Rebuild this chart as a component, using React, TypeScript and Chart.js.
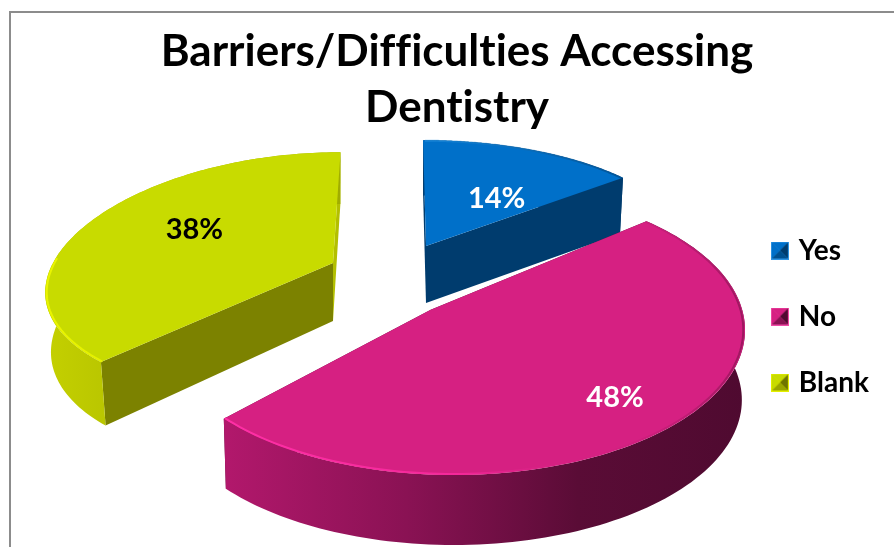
import { useEffect, useRef } from "react";
import { Chart, registerables } from "chart.js";

Chart.register(...registerables);

const categories = ["Yes", "No", "Blank"];
const shares = [14, 48, 38];
const titleLines = ["Barriers/Difficulties Accessing", "Dentistry"];

const topColors = ["#0070c9", "#d62082", "#c8db00"];
const startWallColors = ["#003c6e", "#5a0c36", "#7c8200"];
const endWallColors = ["#003c6e", "#5a0c36", "#b3bf00"];
const labelColors = ["#ffffff", "#ffffff", "#000000"];
const labelRadii = [0.52, 0.79, 0.6];
const labelTurns = [7, -2.8, 6];
const FONT = "Lato, Carlito, Calibri, sans-serif";

// Each exploded wedge has its own view of the tilted pie plane: an ellipse
// for the rim, and the point of that ellipse's disc where the pie's centre falls.
const sliceViews: any[] = [
  { x0: 426, y0: 246, rx: 263, skew: -3, ry: 109, persp: 0.03, perspX: 0.03, depth: 57, inset: 0.985 },
  { ellipse: { x: 454, y: 330, a: 291, b: 145, cu: -0.08, cv: 0.14 }, depth: 70, inset: 0.99 },
  { x0: 333, y0: 263, rx: 280, skew: 9, ry: 124, persp: 0.12, perspX: 0.2, depth: 58, inset: 0.98 },
];
const wallStops = [
  [[0, "#003c6e"], [1, "#003c6e"]],
  [[0, "#b2186c"], [0.35, "#8a1254"], [0.68, "#5a0c36"], [1, "#4f0a30"]],
  [[0, "#c4d000"], [0.5, "#abb800"], [1, "#a0ac00"]],
];
const rimStops = [
  [[0, "rgba(40,150,230,0.5)"], [1, "rgba(0,60,110,0.5)"]],
  [[0, "#ff2fa6"], [0.45, "#f4289a"], [0.68, "rgba(214,32,130,0)"], [1, "rgba(90,12,54,0.45)"]],
  [[0, "#eaf500"], [1, "#e4f000"]],
];
const rimFrom = [1, 0.75, 0.05];

// Projective map of the unit disc onto itself that carries the origin to (cu, cv).
function shiftDisc(u: number, v: number, cu: number, cv: number) {
  const dot = cu * u + cv * v;
  const len2 = cu * cu + cv * cv;
  const s = Math.sqrt(1 - len2);
  const k = dot / len2;
  const pu = cu * k;
  const pv = cv * k;
  return { U: (cu + pu + s * (u - pu)) / (1 + dot), V: (cv + pv + s * (v - pv)) / (1 + dot) };
}

function project(view: any, angle: number, radius: number, lowered: boolean) {
  const u = radius * Math.sin(angle);
  const v = radius * Math.cos(angle);
  if (view.ellipse) {
    const e = view.ellipse;
    const { U, V } = shiftDisc(u, v, e.cu, e.cv);
    const apexX = e.x + e.a * e.cu;
    let x = e.x + e.a * U;
    let y = e.y - e.b * V;
    if (lowered) {
      x = apexX + (x - apexX) * view.inset;
      y += view.depth;
    }
    return { x, y };
  }
  const w = 1 + view.persp * v;
  let x = view.x0 + (view.rx * u + view.skew * v) / (1 + view.perspX * v);
  let y = view.y0 - (view.ry * v) / w;
  if (lowered) {
    x = view.x0 + (x - view.x0) * view.inset;
    y += view.depth / w;
  }
  return { x, y };
}

function fanAngles(start: number, end: number) {
  const steps = 120;
  const list: number[] = [];
  for (let i = 0; i <= steps; i++) list.push(start + ((end - start) * i) / steps);
  return list;
}

function fillPolygon(ctx: CanvasRenderingContext2D, pts: { x: number; y: number }[], fill: any) {
  ctx.beginPath();
  pts.forEach((p, i) => (i ? ctx.lineTo(p.x, p.y) : ctx.moveTo(p.x, p.y)));
  ctx.closePath();
  ctx.fillStyle = fill;
  ctx.fill();
}

function horizontalGradient(ctx: CanvasRenderingContext2D, xs: number[], stops: any[]) {
  const g = ctx.createLinearGradient(Math.min(...xs), 0, Math.max(...xs), 0);
  stops.forEach(([at, c]) => g.addColorStop(at, c));
  return g;
}

// Solid wedges: the arcs' angles come from the pie controller and are projected here.
const solidPie = {
  id: "solidPie",
  beforeDraw(chart: any) {
    const { ctx } = chart;
    ctx.textRendering = "optimizeSpeed";
    ctx.save();
    ctx.fillStyle = "#ffffff";
    ctx.fillRect(0, 0, chart.width, chart.height);
    ctx.strokeStyle = "#8c8c8c";
    ctx.lineWidth = 2;
    ctx.strokeRect(10, 12, chart.width + 20, chart.height + 20);
    ctx.restore();
  },
  afterLayout(chart: any) {
    chart.legend.left -= 15;
    chart.legend.top += 65;
    chart.legend.bottom += 65;
  },
  beforeDatasetDraw(chart: any, args: any) {
    const { ctx } = chart;
    const arcs = chart.getDatasetMeta(args.index).data;
    arcs.forEach((arc: any, i: number) => {
      const view = sliceViews[i];
      const a0 = arc.startAngle + Math.PI / 2;
      const a1 = arc.endAngle + Math.PI / 2;
      const angles = fanAngles(a0, a1);
      const top = angles.map((a) => project(view, a, 1, false));
      const low = angles.map((a) => project(view, a, 1, true));
      const apexTop = project(view, 0, 0, false);
      const apexLow = project(view, 0, 0, true);

      fillPolygon(ctx, [apexTop, top[top.length - 1], low[low.length - 1], apexLow], endWallColors[i]);
      fillPolygon(ctx, [apexTop, top[0], low[0], apexLow], startWallColors[i]);
      fillPolygon(ctx, [...top, ...low.slice().reverse()], horizontalGradient(ctx, top.map((p) => p.x), wallStops[i]));
      fillPolygon(ctx, [apexTop, ...top], topColors[i]);

      // Bevelled highlight along the front of the rim.
      const rim = angles
        .map((a) => ({ a, p: project(view, a, 0.995, false) }))
        .filter(({ a }) => Math.cos(a) < rimFrom[i])
        .map(({ p }) => p);
      if (rim.length > 1) {
        ctx.beginPath();
        rim.forEach((p, k) => (k ? ctx.lineTo(p.x, p.y) : ctx.moveTo(p.x, p.y)));
        ctx.strokeStyle = horizontalGradient(ctx, rim.map((p) => p.x), rimStops[i]);
        ctx.lineWidth = 2;
        ctx.stroke();
      }
    });
    return false;
  },
  afterDatasetsDraw(chart: any) {
    const { ctx } = chart;
    const arcs = chart.getDatasetMeta(0).data;
    ctx.save();
    ctx.font = `bold 29px ${FONT}`;
    ctx.textAlign = "center";
    ctx.textBaseline = "middle";
    arcs.forEach((arc: any, i: number) => {
      const mid = (arc.startAngle + arc.endAngle) / 2 + Math.PI / 2 + (labelTurns[i] * Math.PI) / 180;
      const at = project(sliceViews[i], mid, labelRadii[i], false);
      ctx.fillStyle = labelColors[i];
      ctx.fillText(`${shares[i]}%`, at.x, at.y);
    });
    ctx.restore();
  },
};

// Small bevelled square used as the legend key.
function bevelKey(base: string, light: string, dark: string, darker: string) {
  const size = 18;
  const c = document.createElement("canvas");
  c.width = size;
  c.height = size;
  const g = c.getContext("2d") as CanvasRenderingContext2D;
  g.fillStyle = light;
  g.fillRect(0, 0, size, size);
  const m = size / 2;
  const tri = (ax: number, ay: number, bx: number, by: number, fill: string) => {
    g.beginPath();
    g.moveTo(m, m);
    g.lineTo(ax, ay);
    g.lineTo(bx, by);
    g.closePath();
    g.fillStyle = fill;
    g.fill();
  };
  tri(1, 1, 17, 1, base);
  tri(1, 1, 1, 17, base);
  tri(17, 1, 17, 17, dark);
  tri(1, 17, 17, 17, darker);
  return c;
}

export default function App() {
  const ref = useRef<HTMLCanvasElement>(null);
  useEffect(() => {
    const keys = [
      bevelKey("#0070c9", "#2f95e4", "#003c6e", "#00508f"),
      bevelKey("#d62082", "#f04ba6", "#4f0a30", "#8a1254"),
      bevelKey("#c8db00", "#e4f000", "#6f7500", "#9aa600"),
    ];
    const chart = new Chart(ref.current as HTMLCanvasElement, {
      type: "pie",
      data: {
        labels: categories,
        datasets: [{ data: shares, backgroundColor: topColors, borderWidth: 0 }],
      },
      options: {
        responsive: false,
        animation: false,
        layout: { padding: { left: 20, bottom: 44 } },
        plugins: {
          tooltip: { enabled: false },
          title: {
            display: true,
            text: titleLines,
            color: "#000000",
            font: { family: FONT, size: 44, weight: "bold", lineHeight: 1.27 },
            padding: { top: 24, bottom: 8 },
          },
          legend: {
            position: "right",
            labels: {
              usePointStyle: true,
              pointStyleWidth: 10,
              color: "#000000",
              padding: 38,
              font: { family: FONT, size: 28, weight: "bold" },
              generateLabels: () =>
                categories.map((text, index) => ({
                  text,
                  index,
                  fillStyle: topColors[index],
                  strokeStyle: topColors[index],
                  lineWidth: 0,
                  fontColor: "#000000",
                  pointStyle: keys[index],
                  hidden: false,
                })),
            },
          },
        },
      },
      plugins: [solidPie],
    } as any);
    return () => chart.destroy();
  }, []);
  return (
    <canvas
      ref={ref}
      width={894}
      height={547}
      style={{ position: "absolute", left: 0, top: 0, display: "block" }}
    />
  );
}
